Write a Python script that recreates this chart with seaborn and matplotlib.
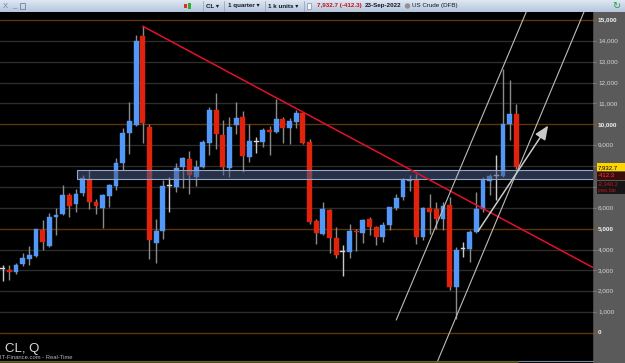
import numpy as np
import pandas as pd
import matplotlib
matplotlib.use("Agg")
import matplotlib.pyplot as plt
import seaborn as sns
from matplotlib.patches import Rectangle

# ---------------- data (quarterly US Crude, price x100) ----------------
opens = [3050, 3020, 2910, 3290, 3550, 3690, 4940, 4180, 5570, 5690,
         6600, 6200, 6710, 7380, 6280, 6000, 6580, 7030, 8130, 9570,
         9970, 14230, 9890, 4300, 4870, 7040, 7010, 7970, 8320, 7490,
         7970, 9120, 10670, 9500, 7910, 9980, 10330, 8450, 9170, 9170,
         9730, 9630, 10240, 9840, 10120, 10530, 9140, 5370, 4760, 5890,
         4540, 3880, 3880, 4890, 4810, 5450, 5060, 4610, 5190, 6000,
         6500, 7300, 7330, 4590, 6000, 5930, 5450, 6120, 2190, 4010,
         4010, 4840, 5930, 7300, 7520, 7520, 10030, 10480]
highs = [3260, 3260, 3360, 3820, 4170, 5000, 5430, 5760, 6000, 7090,
         6710, 6900, 7570, 7790, 6410, 6660, 7150, 8370, 9840, 11090,
         14260, 14700, 10000, 5450, 7330, 7460, 8160, 8450, 8720, 8290,
         9230, 10810, 11500, 10220, 10330, 11070, 10650, 10010, 9410, 9810,
         9920, 11230, 10360, 10280, 10700, 10590, 9300, 5460, 6260, 5920,
         5080, 4230, 5210, 4980, 5460, 5570, 5130, 5300, 6050, 6660,
         7410, 7570, 7620, 6050, 6660, 6290, 6290, 6520, 4140, 4380,
         4920, 6770, 7490, 7630, 8530, 12670, 12110, 10980]
lows = [2510, 2550, 2830, 3210, 3240, 3660, 4000, 4120, 4700, 5650,
        5540, 5780, 6550, 5950, 5710, 5030, 6040, 6850, 7800, 8560,
        9920, 9100, 3550, 3370, 4520, 5800, 6770, 6960, 6680, 7030,
        7890, 8550, 8830, 7570, 7490, 9520, 7730, 8210, 8630, 8920,
        8550, 9600, 9120, 9070, 9840, 9040, 5220, 4250, 4710, 3820,
        3580, 2750, 3610, 3940, 4310, 4710, 4220, 4380, 4920, 5880,
        6380, 6800, 4260, 4480, 4740, 4980, 4950, 2060, 650, 3640,
        3420, 4790, 5780, 6610, 6370, 7490, 9260, 7880]
closes = [3050, 2910, 3240, 3580, 3720, 4970, 4350, 5540, 5650, 6610,
          6100, 6660, 7410, 6290, 6100, 6610, 7080, 8160, 9570, 10140,
          13990, 10050, 4460, 4890, 7060, 7040, 7920, 8370, 7560, 7970,
          9150, 10670, 9540, 7940, 9890, 10300, 8480, 9220, 9170, 9730,
          9650, 10240, 9840, 10140, 10540, 9120, 5320, 4780, 5930, 4550,
          3740, 3880, 4890, 4820, 5430, 5090, 4610, 5190, 6020, 6480,
          7390, 7340, 4610, 6000, 5810, 5450, 6090, 2190, 3980, 4010,
          4850, 5940, 7330, 7520, 7520, 10030, 10480, 7932.7]

# axis labels shown on the price scale (8,000 and 7,000 are hidden behind the price boxes)
ytick_vals = list(range(0, 15001, 1000))
label_vals = [v for v in ytick_vals if v not in (7000, 8000)]
label_text = [f"{v:,}" for v in label_vals]

band_low, band_high, band_start = 7400, 7810, 11.1
trend_x, trend_y = [21, 88.6], [14700, 3120]
chanA_x, chanA_y = [59.0, 79.0], [620, 15770]
chanB_x, chanB_y = [65.0, 87.3], [-1500, 15500]
arrow_x, arrow_y = [71.06, 82.0], [4780, 10050]

last_price = "7,932.7"
last_change = "-412.3"
prev_bar = "-2,340.2"

# ---------------- style ----------------
sns.set_theme(style="dark")
plt.rcParams["font.family"] = ["Liberation Sans", "DejaVu Sans"]

W, H = 625, 363
def fr(x0, y0, x1, y1):
    return [x0 / W, 1 - y1 / H, (x1 - x0) / W, (y1 - y0) / H]

def val(ypx):
    return (333 - ypx) / 20.87 * 1000

fig = plt.figure(figsize=(6.25, 3.63), dpi=100, facecolor="black")

ax = fig.add_axes(fr(0, 12, 593, 363))
ax.set_facecolor("black")
ymin, ymax = val(363), val(12)
ax.set_ylim(ymin, ymax)
ax.set_xlim(-0.405, 88.5)
ax.set_axis_off()

# grid lines
for v in ytick_vals:
    if v % 5000 == 0:
        ax.axhline(v, color="#5e3507", lw=1.0, zorder=1)
    else:
        ax.axhline(v, color="#2c2c2c", lw=1.0, zorder=1)

# candles
df = pd.DataFrame(dict(i=np.arange(len(opens)), o=opens, h=highs, l=lows, c=closes))
up_col, dn_col, eq_col = "#5397f7", "#e0230d", "#d8d8d8"
cols = np.where(df.c > df.o, up_col, np.where(df.c < df.o, dn_col, eq_col))
wick_cols = np.where(df.c == df.o, "#c8c8c8", "#8a8a8a")
ax.vlines(df.i, df.l, df.h, colors=wick_cols, lw=1.0, zorder=2)
bottoms = np.minimum(df.o, df.c)
heights = np.maximum(np.abs(df.c - df.o), 45)
ax.bar(df.i, heights, bottom=bottoms, width=0.72, color=cols,
       edgecolor=cols, linewidth=0.3, zorder=3)

# support band
ax.add_patch(Rectangle((band_start, band_low), 90 - band_start, band_high - band_low,
                       facecolor="#4a5a82", alpha=0.55, edgecolor="none", zorder=4))
ax.add_patch(Rectangle((band_start, band_low), 90 - band_start, band_high - band_low,
                       facecolor="none", edgecolor="#94a8cc", lw=0.8, zorder=4))

# trend and channel lines
sns.lineplot(x=trend_x, y=trend_y, ax=ax, color="#e3102c", lw=1.1, zorder=5)
sns.lineplot(x=chanA_x, y=chanA_y, ax=ax, color="#bdbdbd", lw=0.8, zorder=5)
sns.lineplot(x=chanB_x, y=chanB_y, ax=ax, color="#bdbdbd", lw=0.8, zorder=5)
ax.annotate("", xy=(arrow_x[1], arrow_y[1]), xytext=(arrow_x[0], arrow_y[0]),
            arrowprops=dict(arrowstyle="-|>,head_length=0.7,head_width=0.3",
                            color="#c9c9c9", lw=1.1), zorder=6)
ax.set_ylim(ymin, ymax)
ax.set_xlim(-0.405, 88.5)

# bottom-left labels
fig.text(5 / W, 1 - 349 / H, "CL, Q", color="#d8d8d8", fontsize=9.5, va="center", ha="left")
fig.text(0 / W, 1 - 357.5 / H, "IT-Finance.com - Real-Time", color="#b8b8b8",
         fontsize=4.2, va="center", ha="left")
fig.add_artist(plt.Line2D([0, 593 / W], [1 - 360.5 / H] * 2, color="#76869c", lw=0.8))
fig.add_artist(plt.Line2D([0, 518 / W], [1 - 362.3 / H] * 2, color="#5a5a18", lw=1.2))

# right price axis panel
axp = fig.add_axes(fr(593, 12, 625, 363))
axp.set_facecolor("#5a5a5a")
axp.set_xlim(0, 32)
axp.set_ylim(ymin, ymax)
axp.set_xticks([]); axp.set_yticks([])
for s in axp.spines.values():
    s.set_visible(False)
axp.axvline(0.3, color="#444444", lw=1.2)
for v in ytick_vals:
    axp.plot([0, 2.5], [v, v], color="#8a5a20" if v % 5000 == 0 else "#777777", lw=0.8)
for v, lab in zip(label_vals, label_text):
    major = v % 5000 == 0
    axp.text(5, v, lab, color="#f2f2f2" if major else "#d6d6d6", fontsize=4.6,
             fontweight="bold" if major else "normal", va="center", ha="left")

# price boxes
axp.add_patch(Rectangle((4, val(171.3)), 28, val(163.5) - val(171.3),
                        facecolor="#ffd500", edgecolor="none", zorder=5))
axp.text(4.6, val(167.4), last_price, color="black", fontsize=4.3, va="center", ha="left", zorder=6)
axp.add_patch(Rectangle((4, val(180)), 28, val(172) - val(180),
                        facecolor="#3a0c0c", edgecolor="none", zorder=5))
axp.text(5, val(176), last_change, color="#ff3a3a", fontsize=4.3, va="center", ha="left", zorder=6)
axp.add_patch(Rectangle((4, val(194)), 28, val(180.5) - val(194),
                        facecolor="#151515", edgecolor="none", zorder=5))
axp.text(4.6, val(184.2), prev_bar, color="#d01818", fontsize=4.1, va="center", ha="left", zorder=6)
axp.text(5, val(190.8), "prev. bar", color="#d01818", fontsize=3.3, va="center", ha="left", zorder=6)

# top toolbar
axt = fig.add_axes(fr(0, 0, 625, 12))
axt.set_xlim(0, 625); axt.set_ylim(12, 0)
axt.set_axis_off()
grad = np.linspace(0, 1, 12)[:, None]
axt.imshow(grad, cmap=matplotlib.colors.LinearSegmentedColormap.from_list("g", ["#dde6f2", "#b7c7dd"]),
           extent=[0, 625, 12, 0], aspect="auto", zorder=0)
axt.text(3, 6, "X", color="#7080a0", fontsize=5.5, va="center", ha="left")
axt.text(12, 6, "_", color="#7080a0", fontsize=5.5, va="center", ha="left")
axt.add_patch(Rectangle((20, 3), 5, 5.5, facecolor="none", edgecolor="#7080a0", lw=0.6))
axt.add_patch(Rectangle((184, 4), 2.5, 4, facecolor="#e03020", edgecolor="none"))
axt.add_patch(Rectangle((188, 2.5), 2.5, 6, facecolor="#30b030", edgecolor="none"))
for xs in [202.5, 224.4, 265, 303.7]:
    axt.plot([xs, xs], [1, 11], color="#9aa8bc", lw=0.6)
fs = 4.5
axt.text(206, 6, "CL \u25be", color="#101828", fontsize=fs, fontweight="bold", va="center", ha="left")
axt.text(228, 6, "1 quarter \u25be", color="#101828", fontsize=fs, fontweight="bold", va="center", ha="left")
axt.text(268, 6, "1 k units \u25be", color="#101828", fontsize=fs, fontweight="bold", va="center", ha="left")
axt.add_patch(Rectangle((307, 3), 4, 6, facecolor="#f4f4f4", edgecolor="#8090a8", lw=0.5))
axt.text(317, 6, f"{last_price} ({last_change})", color="#cc1010", fontsize=fs,
         fontweight="bold", va="center", ha="left")
axt.text(365, 6, "23-Sep-2022", color="#101828", fontsize=fs, fontweight="bold", va="center", ha="left")
axt.add_patch(plt.Circle((407.5, 6), 2, color="#909090"))
axt.text(412, 6, "US Crude (DFB)", color="#101828", fontsize=fs, va="center", ha="left")
axt.text(616, 6, "\u21bb", color="#20a040", fontsize=7, va="center", ha="center")

fig.savefig("out.png", dpi=100, facecolor="black")
